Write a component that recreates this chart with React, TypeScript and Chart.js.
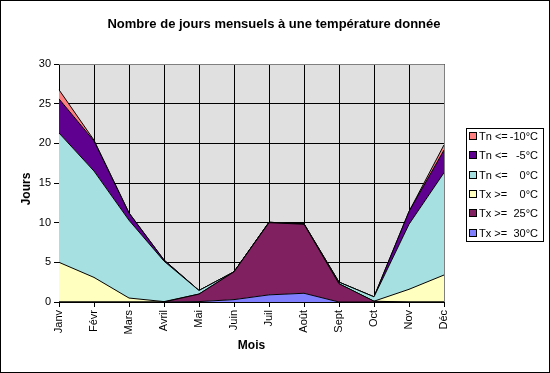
import React, { useEffect, useRef } from "react";
import { Chart, registerables } from "chart.js";

Chart.register(...registerables);

const months = ["Janv", "Févr", "Mars", "Avril", "Mai", "Juin", "Juil", "Août", "Sept", "Oct", "Nov", "Déc"];
const yTicks = [0, 5, 10, 15, 20, 25, 30];

// stacked from bottom to top
const tx30 = [0, 0, 0, 0, 0.05, 0.3, 0.9, 1.1, 0, 0, 0, 0];
const tx25 = [0, 0, 0, 0, 0.95, 3.5, 9.1, 8.7, 2.3, 0.1, 0, 0];
const tx0 = [5, 3.1, 0.5, 0.05, 0, 0, 0, 0, 0, 0, 1.6, 3.4];
const tn0 = [16.3, 13.4, 9.8, 5.1, 0.45, 0, 0.05, 0.05, 0.2, 0.55, 8.2, 12.9];
const tn5 = [4.3, 3.8, 0.9, 0.15, 0, 0, 0, 0, 0, 0, 1.6, 2.85];
const tn10 = [1.15, 0.1, 0.05, 0, 0, 0, 0, 0, 0, 0, 0, 0.65];

const seriesNames = ["Tx >= 30°C", "Tx >= 25°C", "Tx >= 0°C", "Tn <= 0°C", "Tn <= -5°C", "Tn <= -10°C"];
const legendPrefix = ["Tx >=", "Tx >=", "Tx >=", "Tn <=", "Tn <=", "Tn <="];
const legendValue = ["30°C", "25°C", "0°C", "0°C", "-5°C", "-10°C"];
const colors = ["#8080FF", "#802060", "#FFFFC0", "#A6E0E0", "#600090", "#FF8080"];

const FONT = "Arial, 'Liberation Sans', sans-serif";

const decorPlugin = {
  id: "decor",
  beforeDraw(chart: any) {
    const { ctx, chartArea } = chart;
    ctx.save();
    ctx.fillStyle = "#FFFFFF";
    ctx.fillRect(0, 0, chart.width, chart.height);
    ctx.fillStyle = "#E0E0E0";
    ctx.fillRect(chartArea.left, chartArea.top, chartArea.right - chartArea.left, chartArea.bottom - chartArea.top);
    ctx.restore();
  },
  afterDraw(chart: any) {
    const { ctx, chartArea } = chart;
    ctx.save();
    // plot area border (top/right)
    ctx.strokeStyle = "#808080";
    ctx.lineWidth = 1;
    ctx.beginPath();
    ctx.moveTo(chartArea.left, chartArea.top + 0.5);
    ctx.lineTo(chartArea.right + 0.5, chartArea.top + 0.5);
    ctx.lineTo(chartArea.right + 0.5, chartArea.bottom);
    ctx.stroke();
    // outer border
    ctx.strokeStyle = "#000000";
    ctx.strokeRect(0.5, 0.5, chart.width - 1, chart.height - 1);
    // title
    ctx.fillStyle = "#000";
    ctx.textAlign = "center";
    ctx.textBaseline = "middle";
    ctx.font = `bold 13px ${FONT}`;
    ctx.fillText("Nombre de jours mensuels à une température donnée", 274, 24);
    // axis titles
    ctx.font = `bold 12px ${FONT}`;
    ctx.fillText("Mois", (chartArea.left + chartArea.right) / 2, 346);
    ctx.save();
    ctx.translate(27, 189);
    ctx.rotate(-Math.PI / 2);
    ctx.fillText("Jours", 0, 0);
    ctx.restore();
    // legend
    const lx = 466, ly = 128, lw = 77, lh = 113;
    ctx.fillStyle = "#FFFFFF";
    ctx.fillRect(lx, ly, lw, lh);
    ctx.strokeStyle = "#000";
    ctx.strokeRect(lx + 0.5, ly + 0.5, lw, lh);
    ctx.font = `11px ${FONT}`;
    for (let i = 0; i < 6; i++) {
      const idx = 5 - i;
      const cy = 136 + i * 19.3;
      ctx.fillStyle = colors[idx];
      ctx.fillRect(469.5, Math.round(cy) - 3.5, 7, 7);
      ctx.strokeStyle = "#000";
      ctx.strokeRect(469.5, Math.round(cy) - 3.5, 7, 7);
      ctx.fillStyle = "#000";
      ctx.textAlign = "left";
      ctx.fillText(legendPrefix[idx], 479, cy + 1);
      ctx.textAlign = "right";
      ctx.fillText(legendValue[idx], 538, cy + 1);
    }
    ctx.restore();
  },
};

export default function App() {
  const ref = useRef<HTMLCanvasElement>(null);
  useEffect(() => {
    const series = [tx30, tx25, tx0, tn0, tn5, tn10];
    const chart = new Chart(ref.current!, {
      type: "line",
      data: {
        labels: months,
        datasets: series.map((d, i) => ({
          label: seriesNames[i],
          data: d,
          backgroundColor: colors[i],
          borderColor: "#000000",
          borderWidth: 1,
          pointRadius: 0,
          tension: 0,
          fill: i === 0 ? "origin" : "-1",
        })),
      },
      options: {
        responsive: false,
        animation: false,
        layout: { padding: { left: 0, top: 64, right: 106, bottom: 0 } },
        plugins: {
          legend: { display: false },
          title: { display: false },
          tooltip: { enabled: false },
        },
        scales: {
          x: {
            type: "category",
            offset: false,
            afterFit: (s: any) => { s.height = 71; },
            grid: { color: "#000", drawTicks: true, tickLength: 5, offset: false, tickColor: "#000" },
            border: { color: "#000" },
            ticks: {
              autoSkip: false,
              minRotation: 90,
              maxRotation: 90,
              color: "#000",
              padding: 3,
              font: { family: FONT, size: 11 },
            },
          },
          y: {
            stacked: true,
            min: 0,
            max: 30,
            afterFit: (s: any) => { s.width = 59; },
            afterBuildTicks: (s: any) => { s.ticks = yTicks.map((v) => ({ value: v })); },
            grid: { color: "#000", drawTicks: true, tickLength: 5, tickColor: "#000" },
            border: { color: "#000" },
            ticks: {
              color: "#000",
              padding: 3,
              font: { family: FONT, size: 11 },
            },
          },
        },
      },
      plugins: [decorPlugin],
    } as any);
    return () => chart.destroy();
  }, []);
  return (
    <div style={{ position: "absolute", left: 0, top: 0, width: 550, height: 373 }}>
      <canvas ref={ref} width={550} height={373} />
    </div>
  );
}
